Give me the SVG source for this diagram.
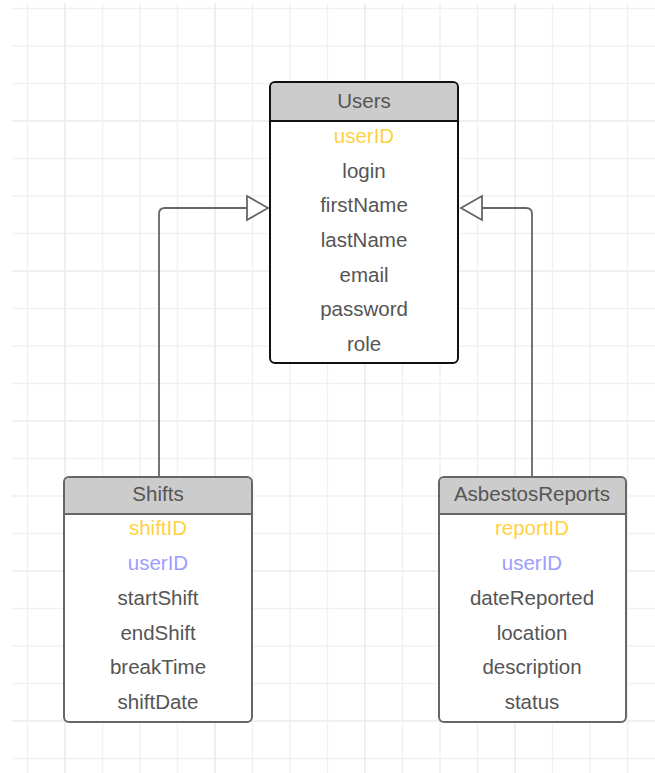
<svg xmlns="http://www.w3.org/2000/svg" width="655" height="773" viewBox="0 0 655 773">
<defs>
<style>
.g{stroke:#f1f1f1;stroke-width:1.5;fill:none}
.gm{stroke:#ebebeb;stroke-width:1.6;fill:none}
.t{font-family:"Liberation Sans",Arial,sans-serif;font-size:20.5px;fill:#555;text-anchor:middle;dominant-baseline:central}
.pk{fill:#ffd23f}
.fk{fill:#9d9dff}
.hdr{fill:#cccccc}
.body{fill:#ffffff}
.conn{stroke:#666;stroke-width:1.8;fill:none}
.tri{stroke:#666;stroke-width:1.8;fill:#ffffff;stroke-linejoin:miter}
</style>
</defs>
<rect width="655" height="773" fill="#ffffff"/>
<g id="grid">
<path class="g" d="M12,8.5H655M12,46H655M12,83.5H655M12,158.5H655M12,196H655M12,233.5H655M12,308.5H655M12,346H655M12,383.5H655M12,458.5H655M12,496H655M12,533.5H655M12,608.5H655M12,646H655M12,683.5H655M12,758.5H655"/>
<path class="gm" d="M12,121H655M12,271H655M12,421H655M12,571H655M12,721H655"/>
<path class="g" d="M27.5,3V773M102.5,3V773M140,3V773M177.5,3V773M252.5,3V773M290,3V773M327.5,3V773M402.5,3V773M440,3V773M477.5,3V773M552.5,3V773M590,3V773M627.5,3V773"/>
<path class="gm" d="M65,3V773M215,3V773M365,3V773M515,3V773"/>
</g>
<g id="connectors">
<path class="conn" d="M159,476V214Q159,208 165,208H247"/>
<polygon class="tri" points="247,196 247,220 268,208"/>
<path class="conn" d="M532,476V214Q532,208 526,208H482"/>
<polygon class="tri" points="482,196 482,220 461,208"/>
</g>
<g id="users">
<rect class="body" x="270" y="82" width="188" height="281" rx="5"/>
<path class="hdr" d="M271,121V88Q271,83 276,83H452Q457,83 457,88V121Z"/>
<line x1="270" y1="121" x2="458" y2="121" stroke="#111" stroke-width="2"/>
<rect x="270" y="82" width="188" height="281" rx="5" fill="none" stroke="#111" stroke-width="2"/>
<text class="t" x="364" y="100">Users</text>
<text class="t pk" x="364" y="135">userID</text>
<text class="t" x="364" y="170">login</text>
<text class="t" x="364" y="204">firstName</text>
<text class="t" x="364" y="239">lastName</text>
<text class="t" x="364" y="274">email</text>
<text class="t" x="364" y="308">password</text>
<text class="t" x="364" y="343">role</text>
</g>
<g id="shifts">
<rect class="body" x="64" y="477" width="188" height="245" rx="5"/>
<path class="hdr" d="M65,514V482Q65,478 70,478H246Q251,478 251,482V514Z"/>
<line x1="64" y1="514" x2="252" y2="514" stroke="#666" stroke-width="2"/>
<rect x="64" y="477" width="188" height="245" rx="5" fill="none" stroke="#666" stroke-width="2"/>
<text class="t" x="158" y="493">Shifts</text>
<text class="t pk" x="158" y="527">shiftID</text>
<text class="t fk" x="158" y="562">userID</text>
<text class="t" x="158" y="597">startShift</text>
<text class="t" x="158" y="632">endShift</text>
<text class="t" x="158" y="666">breakTime</text>
<text class="t" x="158" y="701">shiftDate</text>
</g>
<g id="asbestosReports">
<rect class="body" x="439" y="477" width="187" height="245" rx="5"/>
<path class="hdr" d="M440,514V482Q440,478 445,478H620Q625,478 625,482V514Z"/>
<line x1="439" y1="514" x2="626" y2="514" stroke="#666" stroke-width="2"/>
<rect x="439" y="477" width="187" height="245" rx="5" fill="none" stroke="#666" stroke-width="2"/>
<text class="t" x="532" y="493">AsbestosReports</text>
<text class="t pk" x="532" y="527">reportID</text>
<text class="t fk" x="532" y="562">userID</text>
<text class="t" x="532" y="597">dateReported</text>
<text class="t" x="532" y="632">location</text>
<text class="t" x="532" y="666">description</text>
<text class="t" x="532" y="701">status</text>
</g>
</svg>
